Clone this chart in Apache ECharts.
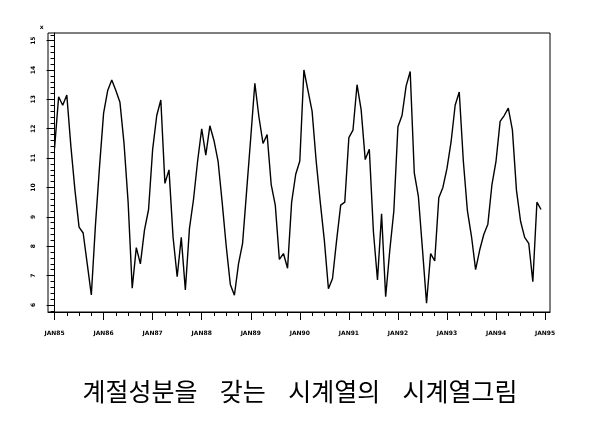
<!DOCTYPE html>
<html>
<head>
<meta charset="utf-8">
<script src="https://cdn.jsdelivr.net/npm/echarts@6/dist/echarts.min.js"></script>
<style>
  html, body { margin: 0; padding: 0; background: #fff; }
  #chart { width: 600px; height: 436px; }
</style>
</head>
<body>
<div id="chart"></div>
<script>
// 월별 관측값 (JAN85 ~ DEC94, 120개)
const values = [
  11.33, 13.09, 12.8, 13.15, 11.4, 9.9, 8.65, 8.45, 7.4, 6.34, 8.7, 10.7,
  12.53, 13.3, 13.66, 13.3, 12.9, 11.5, 9.5, 6.57, 7.95, 7.4, 8.55, 9.25,
  11.3, 12.45, 12.98, 10.14, 10.6, 8.3, 6.96, 8.3, 6.51, 8.6, 9.6, 10.9,
  12.0, 11.1, 12.1, 11.6, 10.9, 9.5, 8.0, 6.7, 6.33, 7.4, 8.1, 9.9,
  11.7, 13.55, 12.4, 11.5, 11.8, 10.1, 9.4, 7.55, 7.75, 7.25, 9.5, 10.45,
  10.9, 14.0, 13.3, 12.6, 10.9, 9.5, 8.2, 6.55, 6.9, 8.2, 9.4, 9.5,
  11.7, 11.95, 13.5, 12.65, 10.95, 11.3, 8.5, 6.85, 9.1, 6.28, 7.85, 9.2,
  12.07, 12.45, 13.45, 13.95, 10.5, 9.7, 7.9, 6.06, 7.75, 7.5, 9.65, 10.0,
  10.65, 11.55, 12.8, 13.25, 10.9, 9.2, 8.33, 7.2, 7.87, 8.4, 8.75, 10.1,
  10.9, 12.25, 12.45, 12.7, 11.96, 9.9, 8.85, 8.3, 8.1, 6.79, 9.5, 9.25
]
const yearLabels = ['JAN85', 'JAN86', 'JAN87', 'JAN88', 'JAN89', 'JAN90',
  'JAN91', 'JAN92', 'JAN93', 'JAN94', 'JAN95']
const yearTicks = yearLabels.map((d, i) => i * 12)
const yTicks = [6, 7, 8, 9, 10, 11, 12, 13, 14, 15]
const titleText = '계절성분을    갖는    시계열의    시계열그림'

// 보조 눈금 (분기, 0.2 단위)
const quarterTicks = []
for (let m = 0; m <= 120; m += 3) quarterTicks.push(m)
const yMinorTicks = []
for (let v = 58; v <= 152; v += 2) yMinorTicks.push(v / 10)

const X_MIN = -1.6
const X_MAX = 121.2
const Y_MIN = 5.76
const Y_MAX = 15.26

const chart = echarts.init(document.getElementById('chart'), null, { renderer: 'canvas' })
chart.setOption({
  backgroundColor: '#fff',
  animation: false,
  title: {
    text: titleText,
    left: 'center',
    top: 374,
    textStyle: {
      fontFamily: 'Noto Sans CJK KR',
      fontSize: 25,
      fontWeight: 'normal',
      color: '#000'
    }
  },
  grid: {
    left: 48,
    right: 50,
    top: 33,
    bottom: 124,
    show: true,
    borderColor: '#000',
    borderWidth: 1
  },
  xAxis: [
    {
      type: 'value',
      min: X_MIN,
      max: X_MAX,
      position: 'bottom',
      splitLine: { show: false },
      axisLine: { show: true, lineStyle: { color: '#000', width: 1 } },
      axisTick: {
        show: true,
        length: 8,
        customValues: yearTicks,
        lineStyle: { color: '#000', width: 1 }
      },
      axisLabel: {
        customValues: yearTicks,
        margin: 18,
        fontFamily: 'DejaVu Sans',
        fontWeight: 'bold',
        fontSize: 6,
        color: '#000',
        formatter: v => yearLabels[Math.round(v / 12)]
      }
    },
    {
      type: 'value',
      min: X_MIN,
      max: X_MAX,
      position: 'bottom',
      splitLine: { show: false },
      axisLine: { show: false },
      axisLabel: { show: false },
      axisTick: {
        show: true,
        length: 4,
        customValues: quarterTicks,
        lineStyle: { color: '#000', width: 1 }
      }
    }
  ],
  yAxis: [
    {
      type: 'value',
      min: Y_MIN,
      max: Y_MAX,
      position: 'left',
      name: 'x',
      nameLocation: 'end',
      nameGap: 3,
      nameTextStyle: {
        fontFamily: 'DejaVu Sans',
        fontWeight: 'bold',
        fontSize: 6,
        color: '#000',
        align: 'right',
        padding: [0, 11, 0, 0]
      },
      splitLine: { show: false },
      axisLine: { show: true, lineStyle: { color: '#000', width: 1 } },
      axisTick: {
        show: true,
        length: 8,
        customValues: yTicks,
        lineStyle: { color: '#000', width: 1 }
      },
      axisLabel: {
        customValues: yTicks,
        rotate: 90,
        margin: 12,
        fontFamily: 'DejaVu Sans',
        fontWeight: 'bold',
        fontSize: 6,
        color: '#000'
      }
    },
    {
      type: 'value',
      min: Y_MIN,
      max: Y_MAX,
      position: 'left',
      splitLine: { show: false },
      axisLine: { show: false },
      axisLabel: { show: false },
      axisTick: {
        show: true,
        length: 4,
        customValues: yMinorTicks,
        lineStyle: { color: '#000', width: 1 }
      }
    }
  ],
  series: [
    {
      type: 'line',
      xAxisIndex: 0,
      yAxisIndex: 0,
      showSymbol: false,
      lineStyle: { color: '#000', width: 1.4 },
      data: values.map((v, i) => [i, v])
    }
  ]
})
</script>
</body>
</html>
